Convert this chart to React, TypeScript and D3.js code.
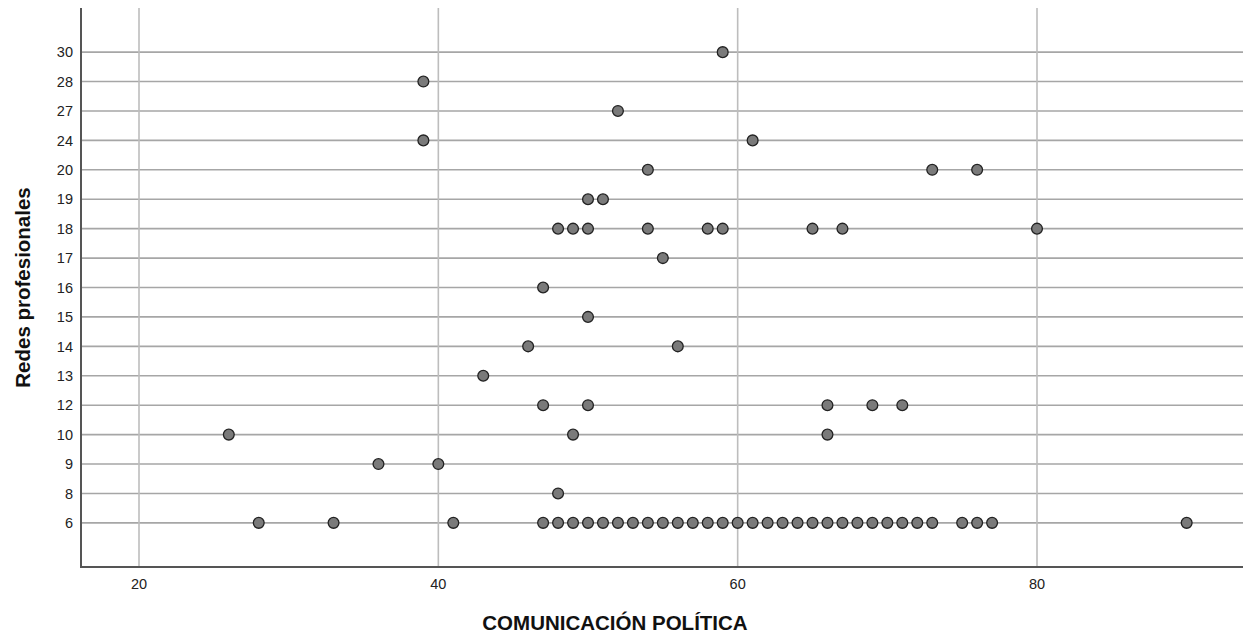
import * as d3 from 'd3'
import { useEffect, useRef } from 'react'

// Redes profesionales categories (top to bottom)
const categories = ['30', '28', '27', '24', '20', '19', '18', '17', '16', '15', '14', '13', '12', '10', '9', '8', '6']
const xTicks = [20, 40, 60, 80]

// comunicacion politica values per row of redes profesionales
const row30 = [59]
const row28 = [39]
const row27 = [52]
const row24 = [39, 61]
const row20 = [54, 73, 76]
const row19 = [50, 51]
const row18 = [48, 49, 50, 54, 58, 59, 65, 67, 80]
const row17 = [55]
const row16 = [47]
const row15 = [50]
const row14 = [46, 56]
const row13 = [43]
const row12 = [47, 50, 66, 69, 71]
const row10 = [26, 49, 66]
const row9 = [36, 40]
const row8 = [48]
const row6 = [
  28, 33, 41, 47, 48, 49, 50, 51, 52, 53, 54, 55, 56, 57, 58, 59, 60, 61, 62, 63, 64, 65, 66, 67, 68, 69, 70, 71,
  72, 73, 75, 76, 77, 90,
]

const rows: [string, number[]][] = [
  ['30', row30], ['28', row28], ['27', row27], ['24', row24], ['20', row20], ['19', row19], ['18', row18],
  ['17', row17], ['16', row16], ['15', row15], ['14', row14], ['13', row13], ['12', row12], ['10', row10],
  ['9', row9], ['8', row8], ['6', row6],
]

const App = () => {
  const ref = useRef<SVGSVGElement>(null)

  useEffect(() => {
    const width = 1243
    const height = 635
    const margin = { top: 8, right: 0, bottom: 68, left: 81 }
    const svg = d3.select(ref.current)
    svg.selectAll('*').remove()
    svg.attr('width', width).attr('height', height)

    // 20 -> 139px, 80 -> 1037px
    const pxPerUnit = (1037 - 139) / 60
    const x = d3
      .scaleLinear()
      .domain([20 - (139 - margin.left) / pxPerUnit, 20 + (width - margin.right - 139) / pxPerUnit])
      .range([margin.left, width - margin.right])
    const y = d3.scalePoint().domain(categories).range([margin.top, height - margin.bottom]).padding(1.5)

    const font = 'Arial, "Liberation Sans", sans-serif'

    // horizontal grid
    svg
      .append('g')
      .selectAll('line')
      .data(categories)
      .enter()
      .append('line')
      .attr('x1', margin.left)
      .attr('x2', width - margin.right)
      .attr('y1', (d) => y(d)!)
      .attr('y2', (d) => y(d)!)
      .attr('stroke', '#a6a6a6')
      .attr('stroke-width', 1.6)

    // vertical grid
    svg
      .append('g')
      .selectAll('line')
      .data(xTicks)
      .enter()
      .append('line')
      .attr('x1', (d) => x(d))
      .attr('x2', (d) => x(d))
      .attr('y1', margin.top)
      .attr('y2', height - margin.bottom)
      .attr('stroke', '#bdbdbd')
      .attr('stroke-width', 1.6)

    // axes lines
    svg
      .append('line')
      .attr('x1', margin.left)
      .attr('x2', margin.left)
      .attr('y1', margin.top)
      .attr('y2', height - margin.bottom)
      .attr('stroke', '#555')
      .attr('stroke-width', 2)
    svg
      .append('line')
      .attr('x1', margin.left - 1)
      .attr('x2', width - margin.right)
      .attr('y1', height - margin.bottom)
      .attr('y2', height - margin.bottom)
      .attr('stroke', '#555')
      .attr('stroke-width', 2)

    // tick labels
    svg
      .append('g')
      .selectAll('text')
      .data(categories)
      .enter()
      .append('text')
      .attr('x', margin.left - 8)
      .attr('y', (d) => y(d)!)
      .attr('dy', '0.36em')
      .attr('text-anchor', 'end')
      .attr('font-family', font)
      .attr('font-size', 14.5)
      .attr('fill', '#222')
      .text((d) => d)
    svg
      .append('g')
      .selectAll('text')
      .data(xTicks)
      .enter()
      .append('text')
      .attr('x', (d) => x(d))
      .attr('y', 589)
      .attr('text-anchor', 'middle')
      .attr('font-family', font)
      .attr('font-size', 14.5)
      .attr('fill', '#222')
      .text((d) => d)

    // axis titles
    svg
      .append('text')
      .attr('x', 615)
      .attr('y', 630)
      .attr('text-anchor', 'middle')
      .attr('font-family', font)
      .attr('font-size', 20.5)
      .attr('font-weight', 'bold')
      .attr('fill', '#111')
      .text('COMUNICACIÓN POLÍTICA')
    svg
      .append('text')
      .attr('transform', 'translate(29.5,287.5) rotate(-90)')
      .attr('text-anchor', 'middle')
      .attr('font-family', font)
      .attr('font-size', 20.5)
      .attr('font-weight', 'bold')
      .attr('fill', '#111')
      .text('Redes profesionales')

    // points
    const points = rows.flatMap(([cat, vals]) => vals.map((v) => [v, cat] as [number, string]))
    svg
      .append('g')
      .selectAll('circle')
      .data(points)
      .enter()
      .append('circle')
      .attr('cx', (d) => x(d[0]))
      .attr('cy', (d) => y(d[1])!)
      .attr('r', 5.4)
      .attr('fill', '#7a7a7a')
      .attr('stroke', '#222')
      .attr('stroke-width', 1.3)
  }, [])

  return (
    <div style={{ position: 'absolute', left: 0, top: 0 }}>
      <svg ref={ref}></svg>
    </div>
  )
}

export default App
